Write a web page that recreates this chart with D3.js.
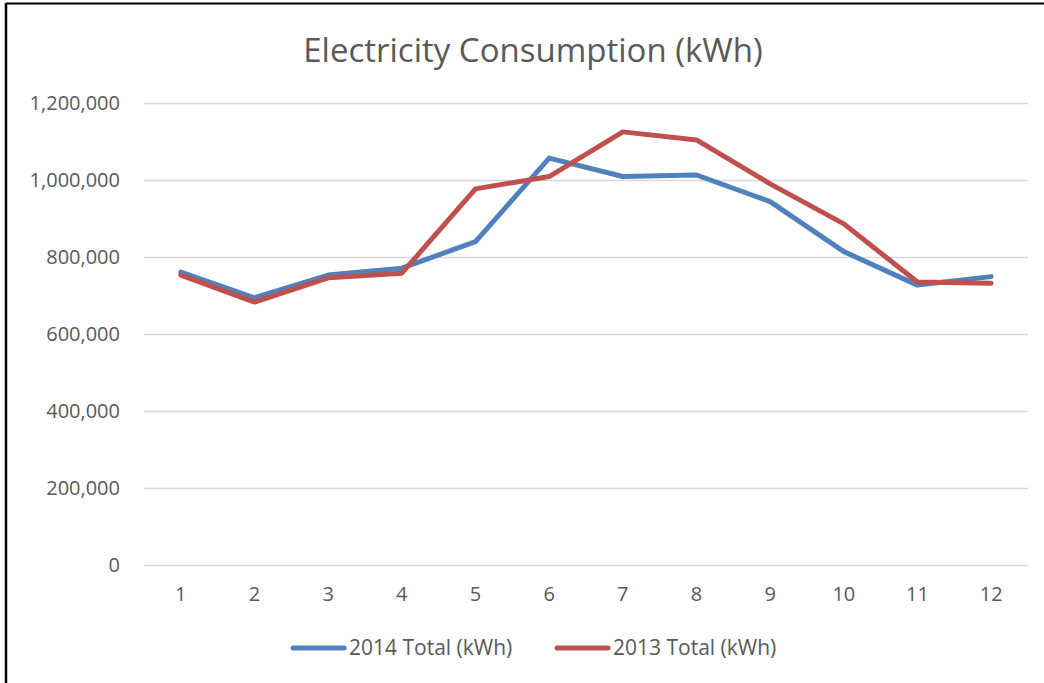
<!DOCTYPE html>
<meta charset="utf-8">
<style>
  body { margin: 0; background: #fff; }
  text { font-family: "Open Sans", "Liberation Sans", sans-serif; fill: #595959; }
</style>
<svg width="1044" height="683"></svg>
<script src="https://cdn.jsdelivr.net/npm/d3@7"></script>
<script>
// months and monthly totals (kWh)
var months = [1, 2, 3, 4, 5, 6, 7, 8, 9, 10, 11, 12];
var total2014 = [761000, 694000, 753000, 771000, 840000, 1057000, 1009000, 1013000, 944000, 814000, 727000, 749000];
var total2013 = [753000, 683000, 746000, 758000, 977000, 1009000, 1125000, 1104000, 990000, 886000, 735000, 732000];
var yTicks = [0, 200000, 400000, 600000, 800000, 1000000, 1200000];
var seriesNames = ["2014 Total (kWh)", "2013 Total (kWh)"];
var colors = ["#4f81bd", "#c0504d"];

var svg = d3.select("svg"),
    width = 1044,
    height = 683;

var margin = {left: 144, right: 16, top: 103, bottom: 118};

var x = d3.scaleBand()
    .domain(months)
    .range([margin.left, width - margin.right]);

var y = d3.scaleLinear()
    .domain([0, 1200000])
    .range([height - margin.bottom, margin.top]);

// frame (top and left edges only show in the picture)
svg.append("line").attr("x1", 6).attr("x2", width).attr("y1", 3.5).attr("y2", 3.5)
    .attr("stroke", "#000").attr("stroke-width", 2);
svg.append("line").attr("x1", 6).attr("x2", 6).attr("y1", 3).attr("y2", height)
    .attr("stroke", "#000").attr("stroke-width", 2.5);

// title
svg.append("text")
    .attr("x", 533).attr("y", 62)
    .attr("text-anchor", "middle")
    .style("font-size", "33px")
    .text("Electricity Consumption (kWh)");

// gridlines + y labels
var yAxis = d3.axisLeft(y)
    .tickValues(yTicks)
    .tickSize(-(width - margin.left - margin.right))
    .tickPadding(24)
    .tickFormat(d3.format(","));

var gy = svg.append("g")
    .attr("transform", "translate(" + margin.left + ",0)")
    .call(yAxis);
gy.select(".domain").remove();
gy.selectAll(".tick line").attr("stroke", "#d9d9d9").attr("stroke-width", 1.5);
gy.selectAll(".tick text").style("font-size", "20px").attr("fill", "#595959");

// x labels
var xAxis = d3.axisBottom(x).tickSize(0).tickPadding(22);
var gx = svg.append("g")
    .attr("transform", "translate(0," + y(0) + ")")
    .call(xAxis);
gx.select(".domain").remove();
gx.selectAll(".tick text").style("font-size", "20px").attr("fill", "#595959");

// lines
var line = d3.line()
    .x(function(d, i) { return x(months[i]) + x.bandwidth() / 2; })
    .y(function(d) { return y(d); });

[total2014, total2013].forEach(function(s, i) {
  svg.append("path")
      .datum(s)
      .attr("d", line)
      .attr("fill", "none")
      .attr("stroke", colors[i])
      .attr("stroke-width", 5)
      .attr("stroke-linejoin", "round")
      .attr("stroke-linecap", "round");
});

// legend
var legendX = [291, 555];
seriesNames.forEach(function(name, i) {
  var g = svg.append("g").attr("transform", "translate(" + legendX[i] + ",648)");
  g.append("line").attr("x1", 2).attr("x2", 53).attr("y1", 0).attr("y2", 0)
      .attr("stroke", colors[i]).attr("stroke-width", 5).attr("stroke-linecap", "round");
  g.append("text").attr("x", 58).attr("y", 7).style("font-size", "21px").text(name);
});
</script>
